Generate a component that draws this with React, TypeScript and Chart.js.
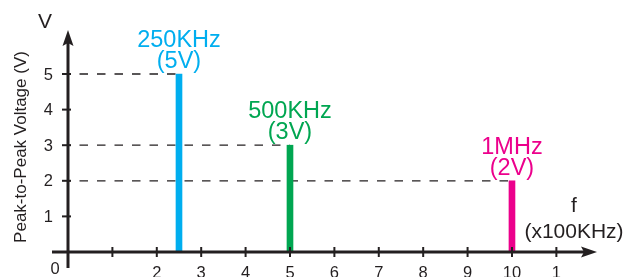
import React, { useEffect, useRef } from "react";
import { Chart, registerables } from "chart.js";

Chart.register(...registerables);

const freqLabels = ["250KHz", "500KHz", "1MHz"];
const freqs = [2.5, 5, 10];
const volts = [5, 3, 2];
const voltLabels = ["(5V)", "(3V)", "(2V)"];
const colors = ["#00aeef", "#00a651", "#ec008c"];
const xTickValues = [1, 2, 3, 4, 5, 6, 7, 8, 9, 10, 11];
const xTickLabels = ["", "2", "3", "4", "5", "6", "7", "8", "9", "10", "1"];
const yTickValues = [1, 2, 3, 4, 5];
const yTickLabels = ["1", "2", "3", "4", "5"];

const FONT = "'Liberation Sans', Arial, sans-serif";
const INK = "#231f20";

const overlay = {
  id: "overlay",
  afterDatasetsDraw(chart: any) {
    const ctx = chart.ctx;
    const xs = chart.scales.x;
    const ys = chart.scales.y;
    const x0 = xs.getPixelForValue(0);
    const y0 = ys.getPixelForValue(0);
    const top = chart.chartArea.top;
    const right = chart.chartArea.right;
    ctx.save();
    ctx.strokeStyle = INK;
    ctx.fillStyle = INK;
    ctx.lineWidth = 3;
    // x axis
    ctx.beginPath();
    ctx.moveTo(x0 - 16, y0);
    ctx.lineTo(right - 6, y0);
    ctx.stroke();
    ctx.beginPath();
    ctx.moveTo(right + 2, y0);
    ctx.lineTo(right - 14, y0 - 5.5);
    ctx.lineTo(right - 11, y0);
    ctx.lineTo(right - 14, y0 + 5.5);
    ctx.closePath();
    ctx.fill();
    // y axis
    ctx.beginPath();
    ctx.moveTo(x0, y0 + 16);
    ctx.lineTo(x0, top + 6);
    ctx.stroke();
    ctx.beginPath();
    ctx.moveTo(x0, top - 2);
    ctx.lineTo(x0 - 5.5, top + 14);
    ctx.lineTo(x0, top + 11);
    ctx.lineTo(x0 + 5.5, top + 14);
    ctx.closePath();
    ctx.fill();
    // ticks
    ctx.lineWidth = 2;
    xTickValues.forEach((v) => {
      const px = xs.getPixelForValue(v);
      ctx.beginPath();
      ctx.moveTo(px, y0 - 5);
      ctx.lineTo(px, y0 + 5);
      ctx.stroke();
    });
    yTickValues.forEach((v) => {
      const py = ys.getPixelForValue(v);
      ctx.beginPath();
      ctx.moveTo(x0 - 6, py);
      ctx.lineTo(x0 + 3, py);
      ctx.stroke();
    });
    // tick labels
    ctx.font = `16.5px ${FONT}`;
    ctx.textAlign = "center";
    ctx.textBaseline = "alphabetic";
    xTickValues.forEach((v, i) => {
      const px = xs.getPixelForValue(v);
      ctx.fillText(xTickLabels[i], px, y0 + 26);
    });
    ctx.fillText("0", x0 - 13, y0 + 22);
    ctx.textAlign = "right";
    ctx.textBaseline = "middle";
    yTickValues.forEach((v, i) => {
      const py = ys.getPixelForValue(v);
      ctx.fillText(yTickLabels[i], x0 - 15, py + 1);
    });
    // axis titles
    ctx.textAlign = "center";
    ctx.textBaseline = "alphabetic";
    ctx.font = `21px ${FONT}`;
    ctx.fillText("V", x0 - 23, 28);
    ctx.font = `21px ${FONT}`;
    ctx.fillText("f", 574, 212);
    ctx.fillText("(x100KHz)", 574, 238);
    ctx.save();
    ctx.translate(26, 147);
    ctx.rotate(-Math.PI / 2);
    ctx.font = `17px ${FONT}`;
    ctx.fillText("Peak-to-Peak Voltage (V)", 0, 0);
    ctx.restore();
    // bar labels
    ctx.font = `23.5px ${FONT}`;
    freqs.forEach((f, i) => {
      const px = xs.getPixelForValue(f);
      const py = ys.getPixelForValue(volts[i]);
      ctx.fillStyle = colors[i];
      ctx.fillText(freqLabels[i], px, py - 27);
      ctx.fillText(voltLabels[i], px, py - 6);
    });
    ctx.restore();
  },
};

export default function App() {
  const ref = useRef<HTMLCanvasElement>(null);
  useEffect(() => {
    if (!ref.current) return;
    const barSets = freqs.map((f, i) => ({
      type: "bar" as const,
      label: freqLabels[i],
      data: [{ x: f, y: volts[i] }],
      backgroundColor: colors[i],
      barThickness: 6,
      grouped: false,
      order: 1,
    }));
    const lineSets = freqs.map((f, i) => ({
      type: "line" as const,
      label: freqLabels[i] + " level",
      data: [
        { x: 0, y: volts[i] },
        { x: f, y: volts[i] },
      ],
      borderColor: INK,
      borderWidth: 1.3,
      borderDash: [8.5, 9],
      borderDashOffset: 6,
      pointRadius: 0,
      order: 2,
    }));
    const chart = new Chart(ref.current, {
      type: "bar",
      data: { datasets: [...lineSets, ...barSets] as any },
      options: {
        animation: false,
        responsive: false,
        maintainAspectRatio: false,
        layout: { padding: { left: 68, right: 39, top: 32, bottom: 25 } },
        plugins: { legend: { display: false }, tooltip: { enabled: false } },
        scales: {
          x: { type: "linear", min: 0, max: 11.87, display: false, offset: false },
          y: { type: "linear", min: 0, max: 6.18, display: false },
        },
      },
      plugins: [overlay],
    });
    return () => chart.destroy();
  }, []);
  return (
    <div style={{ position: "fixed", left: 0, top: 0, width: 634, height: 277, background: "#fff" }}>
      <canvas ref={ref} width={634} height={277} style={{ width: 634, height: 277 }} />
    </div>
  );
}
